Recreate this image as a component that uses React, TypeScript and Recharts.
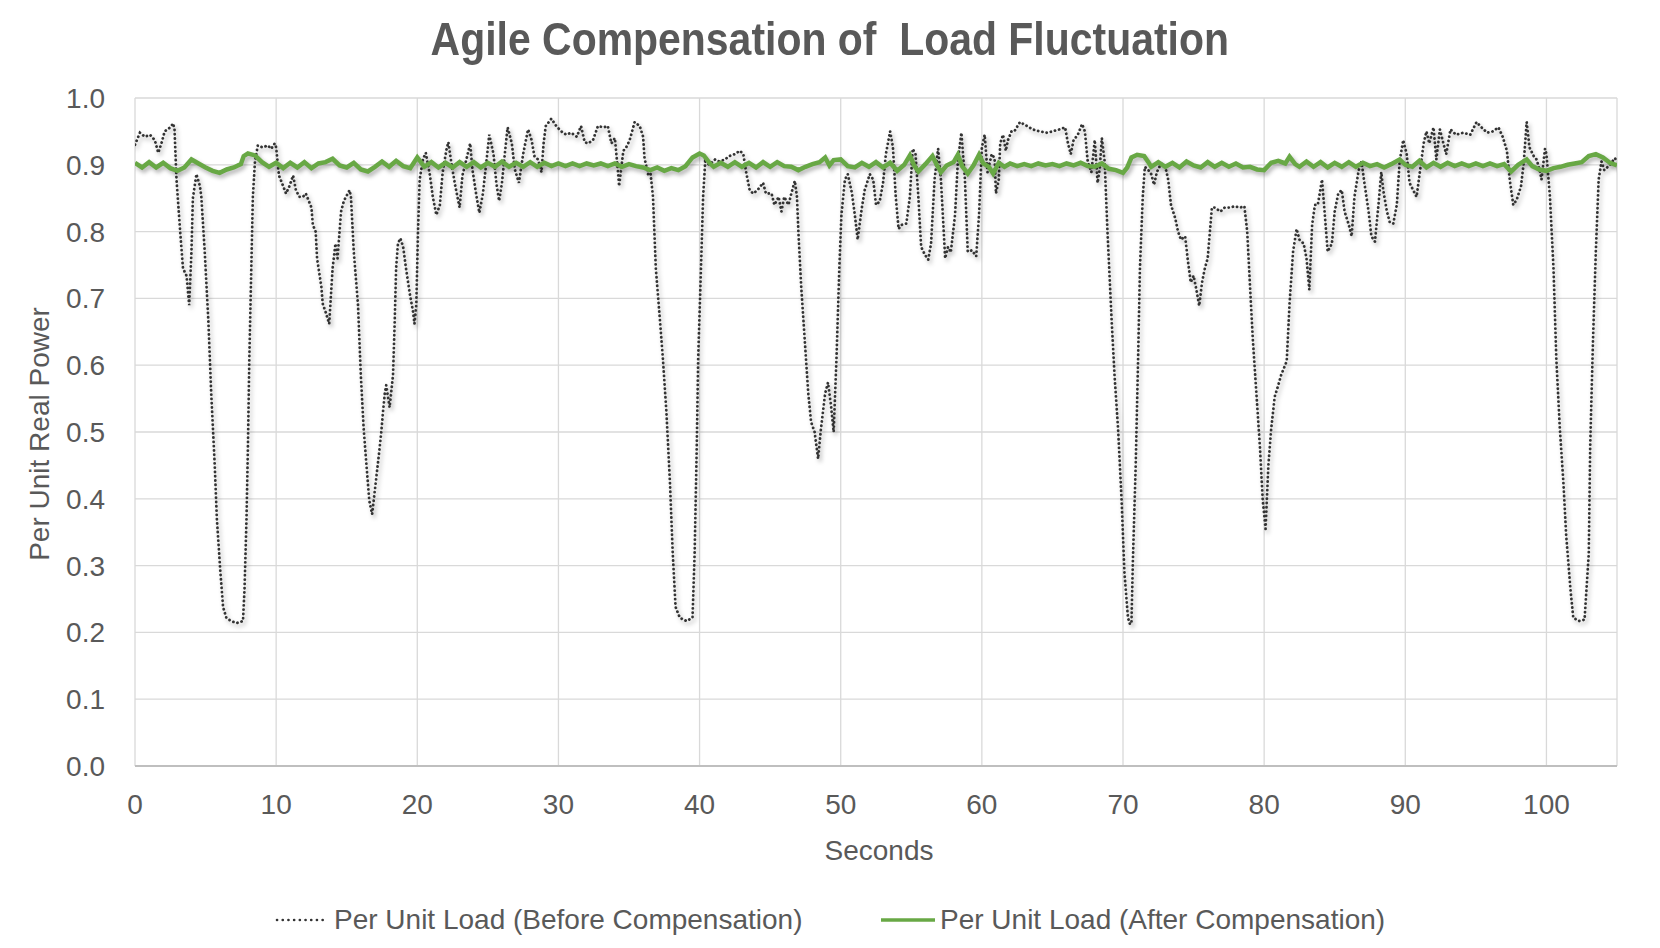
import React from 'react';
import { LineChart, Line, XAxis, YAxis, CartesianGrid } from 'recharts';

// [seconds, per unit load]
const beforeLoad: [number, number][] = [
  [0, 0.93], [0.35, 0.948], [0.7, 0.942], [1.06, 0.945], [1.4, 0.937], [1.65, 0.918], [1.9, 0.934], [2.1, 0.95],
  [2.5, 0.956], [2.7, 0.962], [2.8, 0.953], [2.94, 0.878], [3.2, 0.8], [3.4, 0.745], [3.65, 0.734], [3.84, 0.69],
  [4.0, 0.77], [4.1, 0.85], [4.35, 0.886], [4.6, 0.868], [4.7, 0.852], [4.94, 0.77], [5.2, 0.665], [5.4, 0.558],
  [5.65, 0.45], [5.8, 0.37], [6.05, 0.29], [6.24, 0.238], [6.47, 0.222], [6.8, 0.217], [7.2, 0.214], [7.65, 0.217],
  [7.76, 0.265], [7.9, 0.37], [8.0, 0.478], [8.1, 0.61], [8.24, 0.745], [8.35, 0.852], [8.5, 0.905], [8.7, 0.929],
  [9.06, 0.926], [9.4, 0.929], [9.65, 0.924], [9.9, 0.932], [10.0, 0.926], [10.2, 0.884], [10.5, 0.868], [10.7, 0.857],
  [10.94, 0.868], [11.2, 0.884], [11.4, 0.862], [11.65, 0.852], [11.9, 0.852], [12.1, 0.857], [12.5, 0.836], [12.6, 0.81],
  [12.8, 0.8], [12.9, 0.76], [13.2, 0.718], [13.3, 0.692], [13.5, 0.68], [13.76, 0.662], [14.0, 0.745], [14.2, 0.782],
  [14.35, 0.76], [14.6, 0.83], [14.8, 0.846], [15.2, 0.862], [15.3, 0.852], [15.5, 0.77], [15.8, 0.69], [16.0, 0.585],
  [16.2, 0.505], [16.4, 0.45], [16.6, 0.397], [16.8, 0.377], [17.06, 0.425], [17.3, 0.47], [17.45, 0.5], [17.57, 0.53],
  [17.7, 0.558], [17.8, 0.57], [18.04, 0.537], [18.28, 0.585], [18.4, 0.665], [18.5, 0.745], [18.63, 0.782], [18.8, 0.79],
  [19.0, 0.777], [19.2, 0.745], [19.46, 0.708], [19.7, 0.68], [19.8, 0.662], [19.93, 0.69], [20.05, 0.8], [20.17, 0.878],
  [20.4, 0.908], [20.6, 0.918], [20.9, 0.884], [21.1, 0.852], [21.35, 0.825], [21.6, 0.84], [21.8, 0.889], [22.05, 0.921],
  [22.2, 0.934], [22.4, 0.905], [22.65, 0.873], [22.9, 0.846], [23.0, 0.836], [23.2, 0.884], [23.5, 0.91], [23.75, 0.932],
  [23.9, 0.894], [24.2, 0.852], [24.4, 0.828], [24.65, 0.857], [24.9, 0.905], [25.1, 0.945], [25.4, 0.916], [25.6, 0.873],
  [25.8, 0.846], [26.0, 0.873], [26.2, 0.916], [26.4, 0.956], [26.7, 0.932], [26.9, 0.894], [27.2, 0.873], [27.5, 0.916],
  [27.85, 0.953], [28.1, 0.937], [28.3, 0.913], [28.55, 0.908], [28.8, 0.889], [28.95, 0.932], [29.1, 0.958], [29.5, 0.969],
  [29.85, 0.958], [30.2, 0.95], [30.56, 0.945], [30.9, 0.948], [31.3, 0.942], [31.6, 0.958], [31.86, 0.934], [32.1, 0.932],
  [32.45, 0.937], [32.8, 0.958], [33.2, 0.956], [33.5, 0.958], [33.75, 0.932], [34.0, 0.94], [34.2, 0.894], [34.3, 0.868],
  [34.6, 0.921], [34.8, 0.926], [35.05, 0.937], [35.4, 0.964], [35.76, 0.958], [36.0, 0.942], [36.1, 0.91], [36.35, 0.886],
  [36.5, 0.892], [36.7, 0.852], [36.9, 0.745], [37.2, 0.665], [37.4, 0.61], [37.65, 0.53], [37.9, 0.425], [38.1, 0.318],
  [38.3, 0.238], [38.6, 0.222], [39.07, 0.217], [39.5, 0.222], [39.65, 0.318], [39.8, 0.478], [39.9, 0.61], [40.1, 0.745],
  [40.25, 0.852], [40.4, 0.905], [40.7, 0.9], [41.1, 0.908], [41.4, 0.905], [41.8, 0.908], [42.1, 0.913], [42.5, 0.916],
  [42.85, 0.921], [43.1, 0.916], [43.3, 0.889], [43.55, 0.862], [43.8, 0.857], [44.1, 0.862], [44.5, 0.873], [44.7, 0.857],
  [45.1, 0.857], [45.3, 0.84], [45.6, 0.852], [45.8, 0.83], [46.0, 0.852], [46.3, 0.84], [46.5, 0.857], [46.75, 0.876],
  [46.9, 0.852], [47.0, 0.8], [47.2, 0.718], [47.45, 0.638], [47.7, 0.558], [47.9, 0.515], [48.15, 0.5], [48.4, 0.46],
  [48.6, 0.505], [48.9, 0.558], [49.1, 0.574], [49.3, 0.542], [49.5, 0.5], [49.7, 0.61], [49.9, 0.745], [50.05, 0.825],
  [50.3, 0.878], [50.5, 0.886], [50.8, 0.857], [51.0, 0.825], [51.2, 0.788], [51.5, 0.836], [51.7, 0.862], [52.06, 0.886],
  [52.3, 0.878], [52.5, 0.84], [52.76, 0.845], [53.0, 0.873], [53.2, 0.916], [53.5, 0.95], [53.7, 0.926], [53.9, 0.852],
  [54.1, 0.804], [54.3, 0.81], [54.65, 0.812], [54.9, 0.852], [55.1, 0.924], [55.3, 0.916], [55.5, 0.852], [55.7, 0.777],
  [55.95, 0.766], [56.2, 0.758], [56.4, 0.782], [56.65, 0.878], [56.9, 0.924], [57.1, 0.878], [57.4, 0.76], [57.6, 0.777],
  [57.8, 0.769], [58.1, 0.825], [58.3, 0.905], [58.55, 0.948], [58.8, 0.878], [59.0, 0.77], [59.3, 0.772], [59.6, 0.763],
  [59.8, 0.825], [60.0, 0.926], [60.2, 0.945], [60.4, 0.889], [60.7, 0.916], [60.9, 0.91], [61.0, 0.857], [61.2, 0.878],
  [61.3, 0.932], [61.5, 0.945], [61.7, 0.921], [61.85, 0.937], [62.1, 0.95], [62.3, 0.95], [62.7, 0.964], [63.2, 0.958],
  [63.6, 0.953], [64.1, 0.95], [64.6, 0.948], [65.0, 0.95], [65.5, 0.953], [65.9, 0.956], [66.1, 0.932], [66.3, 0.916],
  [66.5, 0.937], [66.8, 0.945], [67.1, 0.961], [67.3, 0.95], [67.5, 0.905], [67.76, 0.889], [68.0, 0.937], [68.2, 0.873],
  [68.35, 0.894], [68.5, 0.94], [68.7, 0.905], [68.9, 0.8], [69.2, 0.665], [69.4, 0.585], [69.65, 0.505], [69.9, 0.398],
  [70.1, 0.29], [70.35, 0.222], [70.5, 0.212], [70.6, 0.215], [70.7, 0.307], [70.9, 0.45], [71.07, 0.61], [71.2, 0.745],
  [71.4, 0.852], [71.55, 0.897], [71.8, 0.892], [72.0, 0.886], [72.2, 0.87], [72.4, 0.889], [72.7, 0.902], [73.0, 0.897],
  [73.2, 0.878], [73.4, 0.84], [73.7, 0.82], [73.9, 0.8], [74.1, 0.788], [74.4, 0.793], [74.6, 0.756], [74.8, 0.724],
  [75.0, 0.734], [75.2, 0.713], [75.4, 0.689], [75.6, 0.724], [75.8, 0.745], [76.0, 0.76], [76.3, 0.836], [76.5, 0.836],
  [76.9, 0.83], [77.2, 0.836], [77.6, 0.836], [77.9, 0.838], [78.3, 0.836], [78.6, 0.838], [78.8, 0.8], [79.0, 0.718],
  [79.2, 0.638], [79.45, 0.558], [79.7, 0.478], [79.9, 0.398], [80.1, 0.355], [80.3, 0.45], [80.5, 0.505], [80.75, 0.553],
  [81.0, 0.57], [81.2, 0.585], [81.6, 0.606], [81.8, 0.692], [82.05, 0.77], [82.3, 0.804], [82.5, 0.788], [82.8, 0.782],
  [83.0, 0.76], [83.2, 0.713], [83.4, 0.81], [83.6, 0.84], [83.8, 0.84], [84.1, 0.878], [84.3, 0.825], [84.5, 0.77],
  [84.8, 0.782], [85.0, 0.83], [85.25, 0.857], [85.5, 0.862], [85.7, 0.83], [86.0, 0.81], [86.2, 0.793], [86.4, 0.852],
  [86.7, 0.892], [86.9, 0.905], [87.1, 0.873], [87.4, 0.83], [87.6, 0.793], [87.85, 0.785], [88.1, 0.84], [88.3, 0.889],
  [88.44, 0.862], [88.7, 0.83], [88.9, 0.814], [89.15, 0.812], [89.4, 0.84], [89.6, 0.905], [89.85, 0.937], [90.1, 0.916],
  [90.3, 0.873], [90.56, 0.862], [90.8, 0.852], [91.0, 0.884], [91.3, 0.932], [91.5, 0.95], [91.7, 0.932], [92.0, 0.956],
  [92.2, 0.908], [92.45, 0.953], [92.7, 0.932], [92.9, 0.916], [93.2, 0.953], [93.6, 0.945], [94.1, 0.948], [94.6, 0.945],
  [95.05, 0.964], [95.4, 0.956], [95.8, 0.948], [96.2, 0.95], [96.6, 0.956], [96.9, 0.942], [97.2, 0.921], [97.4, 0.878],
  [97.65, 0.84], [97.9, 0.848], [98.2, 0.868], [98.4, 0.905], [98.6, 0.964], [98.8, 0.926], [99.1, 0.913], [99.3, 0.908],
  [99.5, 0.894], [99.65, 0.878], [99.9, 0.924], [100.0, 0.916], [100.25, 0.852], [100.5, 0.745], [100.7, 0.61], [100.95, 0.505],
  [101.2, 0.425], [101.4, 0.345], [101.7, 0.265], [101.9, 0.222], [102.3, 0.217], [102.7, 0.219], [103.0, 0.318], [103.1, 0.478],
  [103.3, 0.638], [103.5, 0.77], [103.7, 0.878], [103.9, 0.905], [104.1, 0.892], [104.5, 0.9], [104.85, 0.91], [105, 0.905],
];

const afterLoad: [number, number][] = [
  [0, 0.903], [0.5, 0.896], [1, 0.904], [1.5, 0.896], [2, 0.903], [2.5, 0.895], [3, 0.891], [3.5, 0.896], [4, 0.908], [4.5, 0.902],
  [5, 0.896], [5.5, 0.891], [6, 0.888], [6.5, 0.893], [7, 0.896], [7.5, 0.901], [7.7, 0.913], [8, 0.917], [8.5, 0.914], [9, 0.904],
  [9.5, 0.897], [10, 0.903], [10.5, 0.895], [11, 0.903], [11.5, 0.896], [12, 0.904], [12.5, 0.895], [13, 0.902], [13.5, 0.904], [14, 0.909],
  [14.5, 0.899], [15, 0.896], [15.5, 0.903], [16, 0.893], [16.5, 0.89], [17, 0.897], [17.5, 0.905], [18, 0.897], [18.5, 0.906], [19, 0.898],
  [19.5, 0.895], [20, 0.911], [20.5, 0.897], [21, 0.904], [21.5, 0.896], [22, 0.903], [22.5, 0.896], [23, 0.904], [23.5, 0.897], [24, 0.904],
  [24.5, 0.896], [25, 0.903], [25.5, 0.897], [26, 0.905], [26.5, 0.897], [27, 0.903], [27.5, 0.897], [28, 0.904], [28.5, 0.897], [29, 0.903],
  [29.5, 0.898], [30, 0.902], [30.5, 0.898], [31, 0.902], [31.5, 0.898], [32, 0.902], [32.5, 0.899], [33, 0.902], [33.5, 0.898], [34, 0.902],
  [34.5, 0.897], [35, 0.901], [35.5, 0.898], [36, 0.896], [36.5, 0.892], [37, 0.896], [37.5, 0.891], [38, 0.895], [38.5, 0.892], [39, 0.898],
  [39.5, 0.911], [40, 0.917], [40.3, 0.914], [40.7, 0.903], [41, 0.897], [41.5, 0.903], [42, 0.897], [42.5, 0.904], [43, 0.897], [43.5, 0.903],
  [44, 0.896], [44.5, 0.904], [45, 0.897], [45.5, 0.904], [46, 0.898], [46.5, 0.897], [47, 0.892], [47.5, 0.897], [48, 0.901], [48.5, 0.904],
  [48.9, 0.911], [49.2, 0.899], [49.5, 0.907], [50, 0.908], [50.5, 0.898], [51, 0.896], [51.5, 0.903], [52, 0.897], [52.5, 0.904], [53, 0.896],
  [53.5, 0.903], [54, 0.891], [54.5, 0.9], [54.9, 0.914], [55.2, 0.899], [55.5, 0.89], [56, 0.901], [56.5, 0.913], [56.8, 0.9], [57.1, 0.889],
  [57.5, 0.899], [58, 0.904], [58.3, 0.915], [58.6, 0.898], [59, 0.887], [59.4, 0.899], [59.8, 0.915], [60.1, 0.902], [60.5, 0.897], [60.8, 0.887],
  [61.2, 0.903], [61.6, 0.897], [62, 0.902], [62.5, 0.898], [63, 0.901], [63.5, 0.898], [64, 0.902], [64.5, 0.899], [65, 0.901], [65.5, 0.898],
  [66, 0.902], [66.5, 0.899], [67, 0.903], [67.5, 0.898], [68, 0.897], [68.5, 0.902], [69, 0.894], [69.5, 0.892], [70, 0.888], [70.3, 0.896],
  [70.6, 0.911], [71, 0.915], [71.5, 0.913], [71.8, 0.904], [72, 0.897], [72.5, 0.904], [73, 0.897], [73.5, 0.903], [74, 0.896], [74.5, 0.905],
  [75, 0.899], [75.5, 0.896], [76, 0.904], [76.5, 0.897], [77, 0.903], [77.5, 0.897], [78, 0.902], [78.5, 0.896], [79, 0.897], [79.5, 0.893],
  [80, 0.892], [80.5, 0.903], [81, 0.906], [81.5, 0.902], [81.8, 0.912], [82.2, 0.901], [82.5, 0.897], [83, 0.905], [83.5, 0.897], [84, 0.904],
  [84.5, 0.896], [85, 0.903], [85.5, 0.897], [86, 0.904], [86.5, 0.897], [87, 0.903], [87.5, 0.898], [88, 0.901], [88.5, 0.896], [89, 0.901],
  [89.6, 0.908], [90, 0.9], [90.5, 0.897], [91, 0.906], [91.5, 0.896], [92, 0.903], [92.5, 0.897], [93, 0.903], [93.5, 0.898], [94, 0.902],
  [94.5, 0.898], [95, 0.902], [95.5, 0.898], [96, 0.902], [96.5, 0.898], [97, 0.901], [97.5, 0.89], [98, 0.9], [98.6, 0.908], [99, 0.898],
  [99.5, 0.893], [100, 0.891], [100.5, 0.895], [101, 0.897], [101.5, 0.9], [102, 0.902], [102.5, 0.904], [103, 0.913], [103.5, 0.916], [104, 0.911],
  [104.5, 0.903], [105, 0.899],
];

const xTicks = [0, 10, 20, 30, 40, 50, 60, 70, 80, 90, 100];
const yTicks = [0, 0.1, 0.2, 0.3, 0.4, 0.5, 0.6, 0.7, 0.8, 0.9, 1.0];

const beforeName = 'Per Unit Load (Before Compensation)';
const afterName = 'Per Unit Load (After Compensation)';

const beforeData = beforeLoad.map(([t, v]) => ({ t, v }));
const afterData = afterLoad.map(([t, v]) => ({ t, v }));

const textColor = '#595959';
const font = "'Liberation Sans', Arial, sans-serif";
const blackLine = '#333333';
const greenLine = '#68a845';

export default function App() {
  return (
    <div style={{ position: 'absolute', left: 0, top: 0, width: 1660, height: 948, background: '#fff', fontFamily: font }}>
      <style>{`.recharts-line .recharts-curve { filter: drop-shadow(2px 3px 2px rgba(0,0,0,0.3)); }`}</style>
      <div
        style={{
          position: 'absolute', left: 0, width: 1660, top: 12, textAlign: 'center',
          fontWeight: 'bold', fontSize: 46, lineHeight: '54px', color: textColor, whiteSpace: 'pre',
          transform: 'scaleX(0.89)', transformOrigin: '828px 0',
        }}
      >
        Agile Compensation of  Load Fluctuation
      </div>

      <LineChart width={1660} height={948} margin={{ top: 98, right: 43, bottom: 152, left: 0 }}>
        <CartesianGrid stroke="#d9d9d9" strokeWidth={1.3} />
        <XAxis
          dataKey="t"
          type="number"
          domain={[0, 105]}
          ticks={xTicks}
          height={30}
          allowDataOverflow
          tickLine={false}
          tickSize={0}
          tickMargin={28}
          axisLine={{ stroke: '#bfbfbf', strokeWidth: 2 }}
          tick={{ fill: textColor, fontSize: 28, fontFamily: font }}
        />
        <YAxis
          type="number"
          domain={[0, 1]}
          ticks={yTicks}
          width={135}
          tickLine={false}
          tickSize={0}
          tickMargin={30}
          axisLine={false}
          tickFormatter={(v: number) => v.toFixed(1)}
          tick={{ fill: textColor, fontSize: 28, fontFamily: font }}
        />
        <Line
          data={beforeData}
          dataKey="v"
          name={beforeName}
          type="linear"
          stroke={blackLine}
          strokeWidth={2.8}
          strokeLinecap="round"
          strokeDasharray="0.1 4.2"
          dot={false}
          isAnimationActive={false}
        />
        <Line
          data={afterData}
          dataKey="v"
          name={afterName}
          type="linear"
          stroke={greenLine}
          strokeWidth={4.5}
          dot={false}
          isAnimationActive={false}
        />
      </LineChart>

      <div
        style={{
          position: 'absolute', left: 40, top: 434, transform: 'translate(-50%, -50%) rotate(-90deg)',
          fontSize: 28, color: textColor, whiteSpace: 'nowrap',
        }}
      >
        Per Unit Real Power
      </div>
      <div
        style={{
          position: 'absolute', left: 879, top: 851, transform: 'translate(-50%, -50%)',
          fontSize: 28, color: textColor, whiteSpace: 'nowrap',
        }}
      >
        Seconds
      </div>

      <div style={{ position: 'absolute', top: 920, left: 275, transform: 'translateY(-50%)', display: 'flex', alignItems: 'center', fontSize: 28, color: textColor, whiteSpace: 'nowrap' }}>
        <svg width={54} height={6} style={{ marginRight: 5 }}>
          <line x1={2} y1={3} x2={53} y2={3} stroke={blackLine} strokeWidth={2.6} strokeLinecap="round" strokeDasharray="0.1 5.6" />
        </svg>
        <span>{beforeName}</span>
      </div>
      <div style={{ position: 'absolute', top: 920, left: 881, transform: 'translateY(-50%)', display: 'flex', alignItems: 'center', fontSize: 28, color: textColor, whiteSpace: 'nowrap' }}>
        <svg width={54} height={6} style={{ marginRight: 5 }}>
          <line x1={0} y1={3} x2={54} y2={3} stroke={greenLine} strokeWidth={3.5} />
        </svg>
        <span>{afterName}</span>
      </div>
    </div>
  );
}
